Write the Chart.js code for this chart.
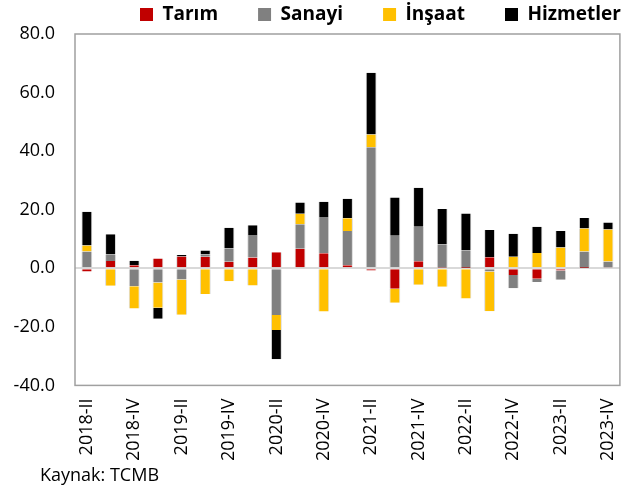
<!DOCTYPE html>
<html lang="tr">
<head>
<meta charset="utf-8">
<title>Sektörlerin büyümeye katkıları</title>
<script src="https://cdn.jsdelivr.net/npm/chart.js@4.4.1/dist/chart.umd.min.js"></script>
<style>
  html, body { margin: 0; padding: 0; background: #fff; }
  #wrap { width: 643px; height: 495px; }
</style>
</head>
<body>
<div id="wrap"><canvas id="chart" width="643" height="495"></canvas></div>
<script>
(function () {
    'use strict';

    // quarters, 2018-II .. 2023-IV
    var quarters = [
        '2018-II', '2018-III', '2018-IV',
        '2019-I', '2019-II', '2019-III', '2019-IV',
        '2020-I', '2020-II', '2020-III', '2020-IV',
        '2021-I', '2021-II', '2021-III', '2021-IV',
        '2022-I', '2022-II', '2022-III', '2022-IV',
        '2023-I', '2023-II', '2023-III', '2023-IV'
    ];

    var tarim =     [-1.1, 2.5, 1.0, 3.3, 4.0, 3.9, 2.2, 3.7, 5.5, 6.7, 5.1, 1.0, -0.8, -7.0, 2.4, 0.2, 0.1, 3.8, -2.3, -3.6, -0.8, 0.1, 0.3];
    var sanayi =    [5.7, 2.2, -6.1, -4.9, -3.8, 0.9, 4.6, 7.7, -16.0, 8.3, 12.4, 11.7, 41.3, 11.1, 11.8, 7.9, 6.0, -1.1, -4.5, -1.1, -3.1, 5.6, 2.0];
    var insaat =    [2.1, -6.0, -7.6, -8.6, -12.1, -8.8, -4.4, -5.9, -5.1, 3.6, -14.8, 4.4, 4.4, -4.8, -5.6, -6.3, -10.3, -13.6, 3.9, 5.2, 7.1, 7.9, 10.9];
    var hizmetler = [11.5, 6.9, 1.6, -3.7, 0.5, 1.3, 7.0, 3.3, -10.0, 3.9, 5.2, 6.6, 21.1, 13.1, 13.3, 12.1, 12.6, 9.3, 7.9, 9.0, 5.6, 3.6, 2.4];

    var yTicks = [-40, -20, 0, 20, 40, 60, 80];

    var C = {
        red: '#c00000',
        gray: '#808080',
        yellow: '#ffc000',
        black: '#000000',
        edge: '#d9d9d9',
        frame: '#a0a0a0',
        text: '#000000'
    };

    var FONT = "'Open Sans', 'Noto Sans', sans-serif";

    function series(label, data, color) {
        return {
            label: label,
            data: data,
            backgroundColor: color,
            borderColor: C.edge,
            borderWidth: { left: 1, right: 1, top: 0, bottom: 0 },
            borderSkipped: false,
            barPercentage: 0.46,
            categoryPercentage: 1
        };
    }

    // plot frame
    var framePlugin = {
        id: 'plotFrame',
        beforeDatasetsDraw: function (chart) {
            var a = chart.chartArea;
            var ctx = chart.ctx;
            ctx.save();
            ctx.strokeStyle = C.frame;
            ctx.lineWidth = 1.5;
            ctx.strokeRect(a.left, a.top, a.right - a.left, a.bottom - a.top);
            ctx.restore();
        }
    };

    // legend sits right of centre, source note hangs left of the plot
    var placePlugin = {
        id: 'placeBlocks',
        afterLayout: function (chart) {
            if (chart.legend) {
                chart.legend.left = 100;
                chart.legend.right = chart.width + 80;
            }
            if (chart.titleBlock) {
                chart.titleBlock.left = 40;
            }
        }
    };

    Chart.defaults.font.family = FONT;
    Chart.defaults.color = C.text;

    new Chart(document.getElementById('chart'), {
        type: 'bar',
        data: {
            labels: quarters,
            datasets: [
                series('Tarım', tarim, C.red),
                series('Sanayi', sanayi, C.gray),
                series('İnşaat', insaat, C.yellow),
                series('Hizmetler', hizmetler, C.black)
            ]
        },
        options: {
            responsive: false,
            animation: false,
            layout: { padding: { top: -35, right: 16, bottom: 0, left: 0 } },
            plugins: {
                tooltip: { enabled: false },
                legend: {
                    position: 'top',
                    align: 'start',
                    labels: {
                        boxWidth: 13,
                        boxHeight: 13,
                        padding: 40,
                        color: C.text,
                        font: { size: 19, weight: 'bold', family: FONT },
                        generateLabels: function (chart) {
                            var items = Chart.defaults.plugins.legend.labels.generateLabels(chart);
                            items.forEach(function (it) {
                                it.lineWidth = 0;
                                it.strokeStyle = it.fillStyle;
                            });
                            return items;
                        }
                    }
                },
                title: {
                    display: true,
                    position: 'bottom',
                    align: 'start',
                    text: 'Kaynak: TCMB',
                    color: C.text,
                    font: { size: 18, weight: 'normal', family: FONT },
                    padding: { top: 0, bottom: 8 }
                }
            },
            scales: {
                x: {
                    stacked: true,
                    grid: { display: false, drawTicks: false },
                    border: { display: false },
                    ticks: {
                        autoSkip: false,
                        minRotation: 90,
                        maxRotation: 90,
                        padding: 13,
                        color: C.text,
                        font: { size: 18 },
                        callback: function (value, index) {
                            return index % 2 === 0 ? this.getLabelForValue(value) : '';
                        }
                    },
                    afterFit: function (scale) { scale.height = 80; }
                },
                y: {
                    stacked: true,
                    min: yTicks[0],
                    max: yTicks[yTicks.length - 1],
                    z: 1,
                    afterBuildTicks: function (axis) {
                        axis.ticks = yTicks.map(function (v) { return { value: v }; });
                    },
                    grid: {
                        drawTicks: false,
                        lineWidth: 2,
                        color: function (c) {
                            return c.tick && c.tick.value === 0 ? C.edge : 'rgba(0,0,0,0)';
                        }
                    },
                    border: { display: false },
                    ticks: {
                        padding: 20,
                        color: C.text,
                        font: { size: 18 },
                        callback: function (value) { return Number(value).toFixed(1); }
                    },
                    afterFit: function (scale) { scale.width = 75; }
                }
            }
        },
        plugins: [framePlugin, placePlugin]
    });
})();
</script>
</body>
</html>
